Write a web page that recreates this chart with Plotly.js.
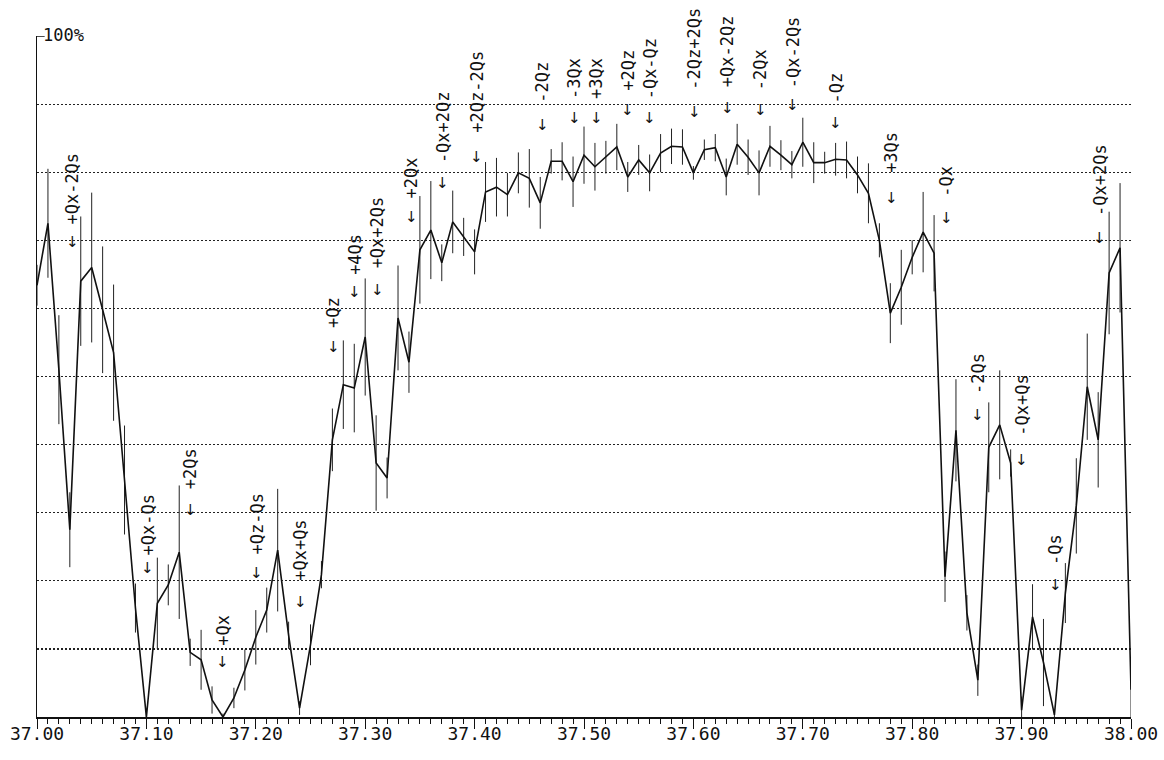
<!DOCTYPE html>
<html>
<head>
<meta charset="utf-8">
<script src="https://cdn.plot.ly/plotly-3.0.1.min.js"></script>
<style>html,body{margin:0;padding:0;background:#fff;}#chart{width:1164px;height:760px;}</style>
</head>
<body>
<div id="chart"></div>
<script>
// Frequency axis (one point every 0.01)
const xStart = 37.00;
const xStep = 0.01;

// Measured transmission (%) for each point
const values = [
  63.4, 72.5, 51.0, 27.5, 64.0, 66.0, 59.8, 53.5, 34.8, 16.0,
  0.0, 16.7, 19.4, 24.2, 9.5, 8.4, 2.5, 0.0, 2.8, 6.9,
  11.7, 15.7, 24.5, 12.0, 1.3, 10.6, 20.9, 40.7, 48.8, 48.3,
  55.8, 37.3, 35.1, 58.6, 52.1, 68.6, 71.5, 66.7, 72.7, 70.5,
  68.3, 77.1, 77.8, 76.7, 79.9, 79.1, 75.5, 81.6, 81.6, 78.6,
  82.5, 80.8, 82.2, 83.7, 79.3, 81.8, 79.9, 82.8, 83.8, 83.7,
  79.9, 83.3, 83.6, 79.3, 84.1, 82.2, 79.9, 83.8, 82.5, 81.1,
  84.4, 81.4, 81.4, 81.9, 81.8, 79.6, 76.9, 70.0, 59.3, 63.1,
  67.5, 71.2, 68.1, 20.6, 42.1, 15.3, 5.4, 39.6, 42.9, 37.3,
  1.0, 14.7, 8.0, 0.3, 18.2, 31.0, 48.5, 40.7, 65.2, 68.9,
  4.0
];

// Error bar half-lengths (%)
const errors = [
  3, 8, 8, 5.5, 9.5, 11, 9.3, 10, 8, 3.6,
  1, 6.7, 3, 9.8, 2, 4.4, 2, 0.5, 1.5, 3,
  4, 3.3, 9, 2, 1, 3, 2, 4.6, 6.5, 6.5,
  8.6, 7, 3, 7.7, 4.5, 7.9, 7.2, 2.7, 4.6, 2.8,
  3.3, 4.4, 4.3, 3.2, 3, 4.3, 3.8, 1.8, 2.8, 3.7,
  4.2, 3.5, 2.4, 3.4, 2.2, 2.2, 2.7, 2.8, 2.6, 2.6,
  1, 1.5, 2, 2.7, 3, 2.6, 3.3, 3, 2.2, 2,
  3.6, 3, 1.6, 2.4, 2.7, 2.7, 4.4, 2.5, 4.4, 5.5,
  2.5, 5.9, 5.6, 3.7, 7.5, 2.6, 2.3, 6.6, 8, 2,
  2, 4.8, 6.4, 0.5, 4.4, 7, 7.8, 7, 9, 9.5,
  4
];

// Resonance labels
const labelText = [
  "+Qx-2Qs", "+Qx-Qs", "+2Qs", "+Qx", "+Qz-Qs", "+Qx+Qs", "+Qz", "+4Qs",
  "+Qx+2Qs", "+2Qx", "-Qx+2Qz", "+2Qz-2Qs", "-2Qz", "-3Qx", "+3Qx", "+2Qz",
  "-Qx-Qz", "-2Qz+2Qs", "+Qx-2Qz", "-2Qx", "-Qx-2Qs", "-Qz", "+3Qs", "-Qx",
  "-2Qs", "-Qx+Qs", "-Qs", "-Qx+2Qs"
];
const labelX = [
  37.032, 37.101, 37.140, 37.170, 37.201, 37.241, 37.271, 37.290,
  37.311, 37.342, 37.371, 37.402, 37.462, 37.491, 37.511, 37.540,
  37.560, 37.601, 37.631, 37.661, 37.691, 37.730, 37.781, 37.831,
  37.860, 37.900, 37.931, 37.971
];
// label centre height and arrow height (in % units)
const labelY = [
  77.6, 28.2, 36.4, 12.8, 28.4, 24.5, 59.4, 67.9,
  71.2, 79.1, 86.6, 91.8, 93.2, 93.7, 93.7, 95.0,
  95.2, 98.2, 97.8, 95.0, 97.6, 92.4, 82.9, 78.6,
  50.5, 45.8, 24.6, 78.9
];
const arrowY = [
  69.8, 21.9, 30.4, 8.1, 21.1, 16.9, 54.3, 62.4,
  62.7, 73.4, 78.4, 82.2, 86.9, 87.9, 87.9, 89.1,
  87.9, 88.8, 89.4, 89.1, 89.9, 87.2, 76.2, 73.3,
  44.3, 37.7, 19.4, 70.3
];

const xs = values.map((_, i) => +(xStart + i * xStep).toFixed(2));

const trace = {
  x: xs,
  y: values,
  type: 'scatter',
  mode: 'lines',
  line: {color: '#111', width: 1.6},
  error_y: {type: 'data', array: errors, visible: true, color: '#222', thickness: 1, width: 0},
  hoverinfo: 'skip',
  cliponaxis: false
};

const mono = "DejaVu Sans Mono, Liberation Mono, monospace";
const annotations = [];
labelText.forEach((t, i) => {
  annotations.push({
    x: labelX[i], y: labelY[i], xref: 'x', yref: 'y',
    text: t, textangle: -90, showarrow: false,
    xanchor: 'center', yanchor: 'middle',
    font: {family: mono, size: 17, color: '#111'}
  });
  annotations.push({
    x: labelX[i], y: arrowY[i], xref: 'x', yref: 'y',
    text: '↓', showarrow: false,
    xanchor: 'center', yanchor: 'middle',
    font: {family: 'DejaVu Sans', size: 15, color: '#111'}
  });
});
annotations.push({
  x: 0, y: 100, xref: 'paper', yref: 'y',
  text: '100%', showarrow: false, xanchor: 'left', yanchor: 'middle',
  xshift: 4, yshift: 1,
  font: {family: mono, size: 17, color: '#111'}
});

const layout = {
  width: 1164, height: 760,
  margin: {l: 37, r: 33, t: 36, b: 43, pad: 0},
  paper_bgcolor: '#fff', plot_bgcolor: '#fff',
  showlegend: false,
  xaxis: {
    range: [37, 38], autorange: false,
    tickmode: 'linear', tick0: 37, dtick: 0.1, tickformat: '.2f',
    ticks: 'outside', ticklen: 10, tickwidth: 1, tickcolor: '#111',
    ticklabelstandoff: -10,
    minor: {dtick: 0.01, tick0: 37, ticks: 'outside', ticklen: 5, tickwidth: 1, tickcolor: '#111', showgrid: false},
    showgrid: false, zeroline: false,
    showline: true, linecolor: '#111', linewidth: 1.5,
    tickfont: {family: mono, size: 18, color: '#111'},
    automargin: false
  },
  yaxis: {
    range: [0, 100], autorange: false,
    tickmode: 'array', tickvals: [10, 20, 30, 40, 50, 60, 70, 80, 90],
    showticklabels: false, ticks: '',
    showgrid: true, gridcolor: '#222', gridwidth: 1.2, griddash: '2px,2px',
    zeroline: false,
    showline: true, linecolor: '#111', linewidth: 1.5,
    automargin: false
  },
  shapes: [
    {type: 'line', xref: 'paper', yref: 'y', x0: 0, x1: 0.007, y0: 100, y1: 100, line: {color: '#111', width: 1.5}}
  ],
  annotations: annotations
};

Plotly.newPlot('chart', [trace], layout, {staticPlot: true, displayModeBar: false});
</script>
</body>
</html>
